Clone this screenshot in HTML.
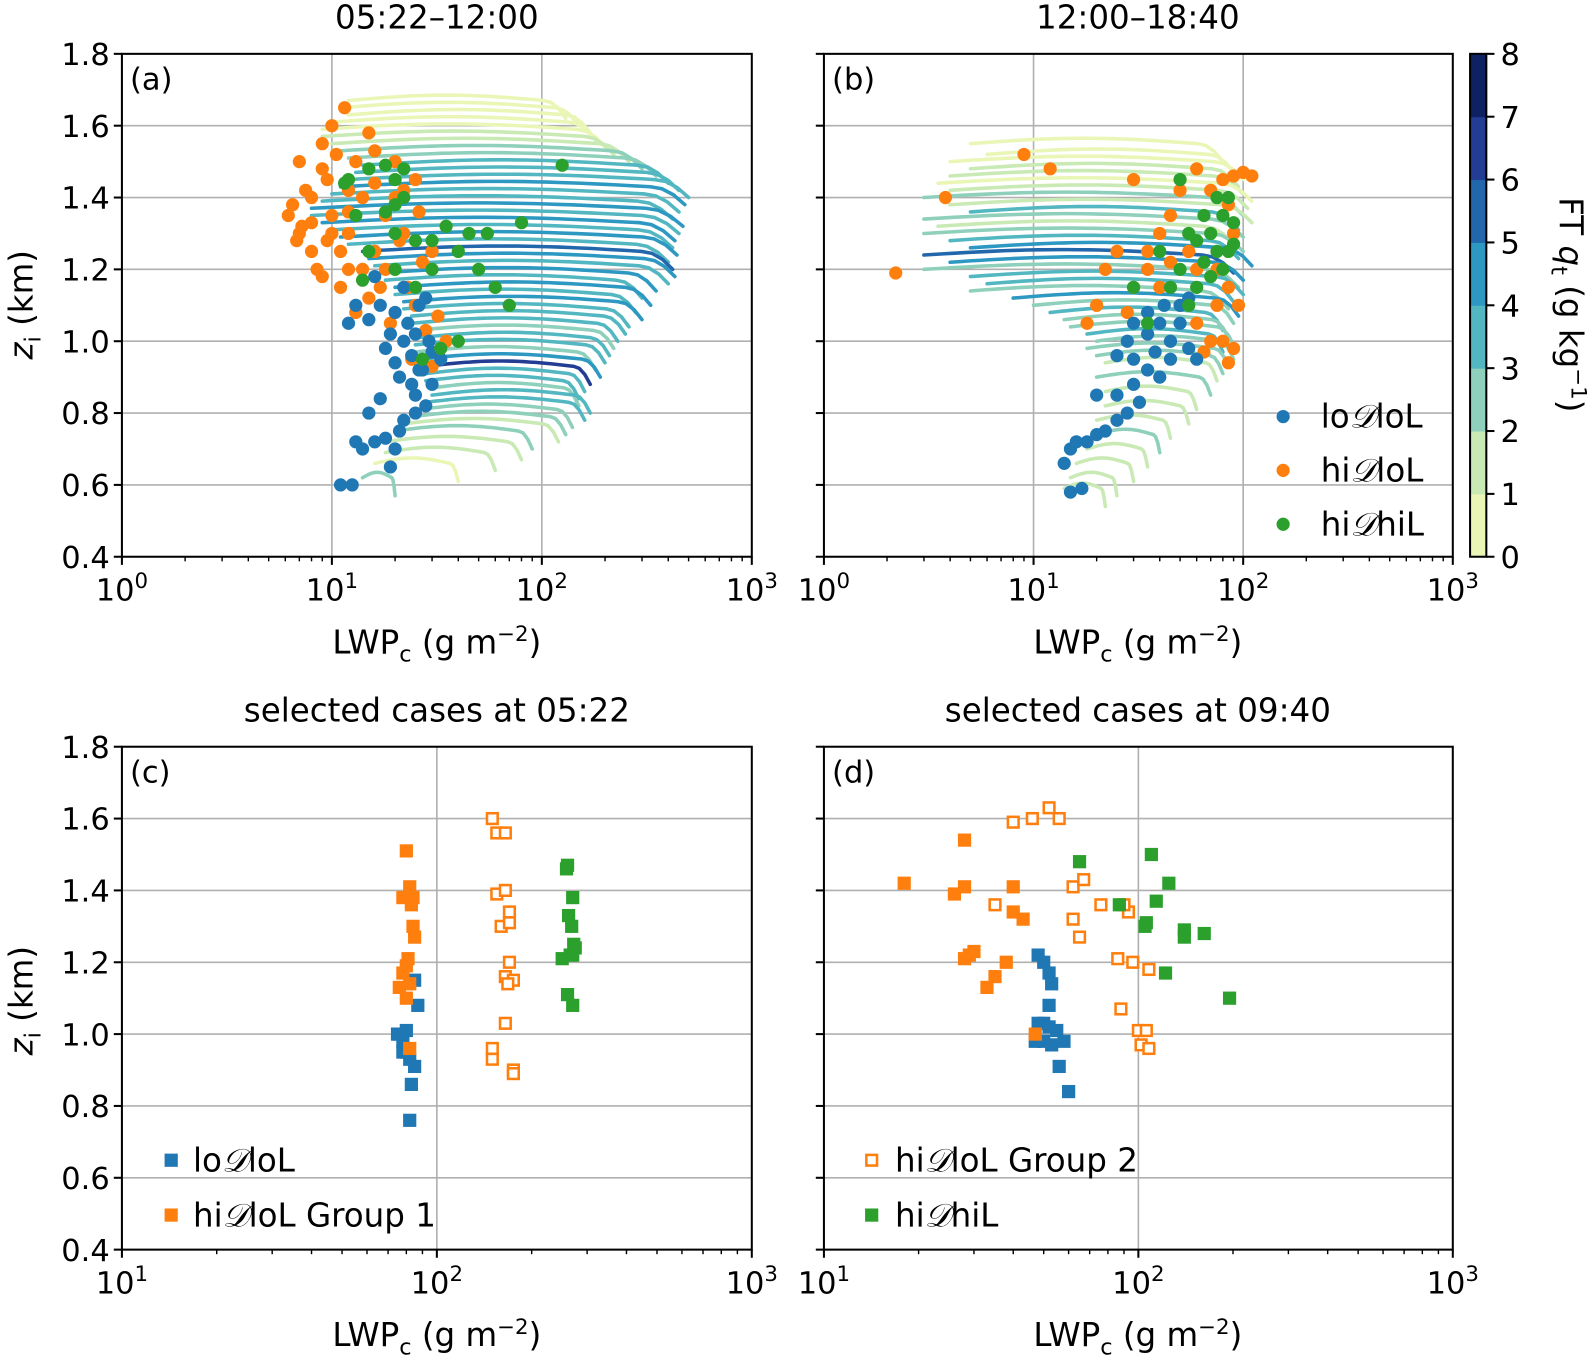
<!DOCTYPE html>
<html><head><meta charset="utf-8">
<style>
html,body{margin:0;padding:0;background:#fff}
svg{display:block;font-family:"DejaVu Sans","Liberation Sans",sans-serif}
</style></head>
<body>
<svg id="fig" width="1593" height="1356" viewBox="0 0 1568 1334.7" preserveAspectRatio="none" xmlns="http://www.w3.org/2000/svg"></svg>
<script>
// ---------- DATA ----------
const qtTicks=[0,1,2,3,4,5,6,7,8];
const qtColors=["#e9f6b6","#c9e9b5","#8ed0bb","#52b7c1","#2d98c1","#2267ac","#233d95","#0d2163"];
const zTicks=[0.4,0.6,0.8,1.0,1.2,1.4,1.6,1.8];
// panel a trajectories
const aTrajZ=[1.67,1.65,1.63,1.61,1.59,1.57,1.55,1.53,1.51,1.49,1.47,1.45,1.43,1.41,1.39,1.37,1.35,1.33,1.31,1.29,1.27,1.25,1.23,1.21,1.19,1.17,1.15,1.13,1.11,1.09,1.07,1.05,1.03,1.01,0.99,0.97,0.95,0.93,0.91,0.89,0.87,0.85,0.83,0.81,0.79,0.77,0.75,0.72,0.69,0.66,0.62];
const aTrajStart=[12,11,12,10,9,9,10,11,12,14,13,12,11,10,9,8,8,9,10,11,12,14,15,16,17,18,20,20,22,22,24,24,25,26,25,25,26,28,28,28,30,30,28,26,24,22,20,18,18,16,14];
const aTrajEnd=[130,150,170,180,200,220,260,300,350,400,450,500,480,450,420,470,450,430,420,440,400,420,430,400,350,300,330,280,300,260,250,230,220,210,200,180,190,170,160,150,150,170,160,140,130,120,90,80,60,40,20];
const aTrajQt=[0.6,0.7,0.8,0.6,0.9,1.2,1.5,2.2,2.8,3.2,3.6,3.4,4.2,3.0,3.8,4.4,3.5,4.8,3.2,4.5,3.9,5.2,4.1,3.6,4.6,3.3,4.0,3.1,4.4,3.5,3.8,3.0,2.6,3.7,3.2,2.8,4.3,6.3,3.4,3.0,2.7,3.9,3.3,2.5,2.2,1.8,2.4,1.6,1.2,0.9,2.5];
// panel b trajectories
const bTrajZ=[1.55,1.52,1.5,1.48,1.46,1.44,1.42,1.4,1.38,1.36,1.34,1.32,1.3,1.28,1.26,1.24,1.22,1.2,1.18,1.16,1.14,1.12,1.1,1.08,1.06,1.04,1.02,1.0,0.98,0.96,0.94,0.9,0.86,0.82,0.78,0.74,0.7,0.66,0.62,0.59];
const bTrajStart=[5,6,4,5,4,3.5,4,3,4,5,3,3.5,3,4,5,3,4,3,5,6,5,8,10,12,14,15,18,20,18,20,22,20,22,22,20,20,18,16,15,14];
const bTrajEnd=[80,90,100,95,100,110,105,100,110,95,100,90,100,95,110,90,100,95,100,90,85,95,90,80,85,90,80,90,85,80,75,70,60,55,45,40,35,30,25,22];
const bTrajQt=[0.6,0.8,0.5,1.0,1.2,0.8,1.5,2.2,1.8,3.5,2.6,1.4,2.2,3.8,4.5,5.5,4.0,2.4,3.0,3.6,2.6,4.2,2.8,3.1,2.4,2.0,3.4,2.6,2.3,2.0,1.8,2.2,1.6,1.9,1.5,2.0,1.4,1.6,1.8,1.2];
// panel a scatter
const aOrange=[[6.5,1.38],[7,1.3],[6.2,1.35],[7.5,1.42],[8,1.25],[8.5,1.2],[7,1.5],[9,1.55],[10,1.6],[11.5,1.65],[9.5,1.45],[12,1.3],[13,1.5],[15,1.58],[14,1.4],[10,1.35],[8,1.33],[6.8,1.28],[9,1.18],[11,1.15],[12,1.2],[16,1.25],[18,1.35],[20,1.4],[22,1.3],[17,1.15],[19,1.05],[25,1.1],[28,1.03],[24,0.95],[30,0.93],[27,1.22],[23,1.15],[15,1.12],[13,1.08],[20,1.5],[25,1.45],[12,1.42],[8,1.4],[7.2,1.32],[9.5,1.28],[11,1.25],[14,1.2],[18,1.2],[22,1.42],[26,1.36],[30,1.25],[35,1.0],[32,1.07],[21,1.28],[16,1.44],[9,1.48],[10.5,1.52],[16,1.53],[10,1.3],[12,1.36]];
const aBlue=[[11,0.6],[12.5,0.6],[13,0.72],[14,0.7],[16,0.72],[18,0.73],[20,0.7],[19,0.65],[15,0.8],[17,0.84],[22,0.78],[25,0.8],[28,0.82],[24,0.88],[30,0.88],[27,0.92],[20,0.94],[18,0.98],[22,1.0],[25,1.02],[23,1.05],[20,1.08],[17,1.1],[15,1.06],[12,1.05],[13,1.1],[26,1.1],[29,1.0],[30,0.97],[21,0.9],[24,0.96],[19,1.02],[28,1.12],[22,1.15],[16,1.18],[25,0.85],[21,0.75],[33,0.95],[26,0.92]];
const aGreen=[[12,1.45],[11.5,1.44],[15,1.48],[18,1.49],[20,1.45],[22,1.48],[13,1.35],[18,1.36],[20,1.3],[25,1.28],[30,1.2],[35,1.32],[40,1.25],[45,1.3],[50,1.2],[60,1.15],[70,1.1],[80,1.33],[125,1.49],[15,1.25],[14,1.17],[20,1.2],[25,1.15],[40,1.0],[33,0.98],[27,0.95],[22,1.4],[30,1.28],[55,1.3],[20,1.38]];
// panel b scatter
const bOrange=[[2.2,1.19],[3.8,1.4],[9,1.52],[12,1.48],[30,1.45],[50,1.42],[60,1.48],[90,1.46],[110,1.46],[100,1.47],[80,1.45],[70,1.42],[85,1.38],[45,1.35],[40,1.3],[35,1.25],[25,1.25],[22,1.2],[20,1.1],[30,1.15],[40,1.15],[50,1.1],[60,1.05],[70,1.0],[80,1.0],[90,0.98],[65,0.97],[85,0.94],[75,1.2],[90,1.3],[55,1.25],[45,1.22],[35,1.2],[28,1.08],[18,1.05],[60,1.2],[75,1.1],[85,1.15],[95,1.1]];
const bBlue=[[15,0.58],[17,0.59],[14,0.66],[15,0.7],[18,0.72],[20,0.74],[16,0.72],[22,0.75],[25,0.78],[28,0.8],[32,0.83],[30,0.88],[25,0.85],[40,0.9],[35,0.92],[30,0.95],[28,1.0],[35,1.02],[40,1.05],[45,1.0],[50,1.05],[55,0.98],[60,0.95],[45,0.95],[38,0.97],[50,1.1],[55,1.12],[42,1.1],[35,1.08],[30,1.05],[25,0.96],[20,0.85]];
const bGreen=[[40,1.25],[50,1.2],[60,1.28],[70,1.3],[80,1.35],[90,1.33],[75,1.4],[85,1.4],[50,1.45],[65,1.22],[70,1.18],[80,1.2],[60,1.15],[55,1.1],[45,1.15],[85,1.25],[90,1.27],[75,1.25],[65,1.35],[55,1.3],[35,1.05],[30,1.15]];
// panel c
const cBlue=[[75,1.0],[78,0.98],[80,0.95],[82,0.93],[78,0.95],[85,0.91],[80,1.01],[83,0.86],[82,0.76],[85,1.15],[87,1.08],[76,1.0]];
const cOrange=[[80,1.51],[78,1.38],[82,1.41],[84,1.38],[83,1.36],[84,1.3],[85,1.27],[81,1.21],[80,1.19],[78,1.17],[76,1.13],[82,1.14],[80,1.1],[82,0.96]];
const cOpen=[[150,1.6],[155,1.56],[165,1.56],[155,1.39],[165,1.4],[170,1.34],[160,1.3],[170,1.31],[170,1.2],[165,1.16],[175,1.15],[168,1.14],[165,1.03],[150,0.96],[150,0.93],[175,0.9],[175,0.89]];
const cGreen=[[260,1.47],[258,1.46],[270,1.38],[262,1.33],[268,1.3],[272,1.25],[265,1.22],[250,1.21],[275,1.24],[270,1.22],[260,1.11],[270,1.08]];
// panel d
const dBlue=[[48,1.22],[50,1.2],[52,1.17],[53,1.14],[52,1.08],[48,1.03],[50,1.03],[52,1.02],[55,1.01],[50,0.98],[53,0.97],[58,0.98],[56,0.91],[60,0.84],[47,0.98]];
const dOrange=[[18,1.42],[28,1.54],[26,1.39],[28,1.41],[40,1.41],[40,1.34],[43,1.32],[29,1.22],[30,1.23],[28,1.21],[38,1.2],[35,1.16],[33,1.13],[47,1.0]];
const dOpen=[[52,1.63],[40,1.59],[46,1.6],[56,1.6],[35,1.36],[62,1.32],[62,1.41],[67,1.43],[76,1.36],[93,1.34],[90,1.36],[65,1.27],[86,1.21],[96,1.2],[108,1.18],[88,1.07],[100,1.01],[106,1.01],[102,0.97],[108,0.96]];
const dGreen=[[65,1.48],[87,1.36],[110,1.5],[114,1.37],[125,1.42],[105,1.3],[106,1.31],[140,1.29],[140,1.27],[162,1.28],[122,1.17],[195,1.1]];

// ---------- DRAWING ----------
const NS="http://www.w3.org/2000/svg";
const svg=document.getElementById('fig');
function mk(tag,attrs,parent){const e=document.createElementNS(NS,tag);for(const k in attrs)e.setAttribute(k,attrs[k]);(parent||svg).appendChild(e);return e;}
const BLUE="#1f77b4",ORANGE="#ff7f0e",GREEN="#2ca02c";
function qtColor(v){return qtColors[Math.max(0,Math.min(7,Math.floor(v)))];}

function makePanel(name,x0,x1,y0,y1,lmin,lmax,yLabels){
  const P={x0,x1,y0,y1,lmin,lmax};
  P.sx=v=>x0+(Math.log10(v)-lmin)/(lmax-lmin)*(x1-x0);
  P.sy=z=>y1-(z-0.4)/1.4*(y1-y0);
  const g=mk('g',{});
  
  
  P.g=g;
  const grid=mk('g',{},g);
  
  
  for(let d=lmin+1;d<lmax;d++){mk('line',{x1:P.sx(10**d),x2:P.sx(10**d),y1:y0,y2:y1,stroke:'#b0b0b0','stroke-width':1.6},grid);}
  zTicks.forEach(z=>{if(z>0.41&&z<1.79)mk('line',{x1:x0,x2:x1,y1:P.sy(z),y2:P.sy(z),stroke:'#b0b0b0','stroke-width':1.6},grid);});
  P.plot=mk('g',{},g);
  
  
  P.fin=()=>{
    mk('rect',{x:x0,y:y0,width:x1-x0,height:y1-y0,fill:'none',stroke:'#000','stroke-width':2},g);
    const ax=mk('g',{},g);
    
    
    for(let d=lmin;d<=lmax;d++){
      const x=P.sx(10**d);
      mk('line',{x1:x,x2:x,y1:y1,y2:y1+8,stroke:'#000','stroke-width':2},ax);
      const t=mk('text',{x:x,y:y1+43,'font-size':30,'text-anchor':'middle'},ax);
      t.textContent='10';
      const s=mk('tspan',{dy:-12,'font-size':21},t);s.textContent=String(d);
      if(d<lmax)for(let m=2;m<10;m++){const xm=P.sx(m*10**d);mk('line',{x1:xm,x2:xm,y1:y1,y2:y1+4.5,stroke:'#000','stroke-width':1.4},ax);}
    }
    const ay=mk('g',{},g);
    
    
    zTicks.forEach(z=>{
      const y=P.sy(z);
      mk('line',{x1:x0-8,x2:x0,y1:y,y2:y,stroke:'#000','stroke-width':2},ay);
      if(yLabels){const t=mk('text',{x:x0-12,y:y+11,'font-size':30,'text-anchor':'end'},ay);t.textContent=z.toFixed(1);}
    });
  };
  return P;
}
function traj(P,zs,st,en,qt,name){
  const g=mk('g',{},P.plot);
  
  
  for(let i=0;i<zs.length;i++){
    const a=Math.log10(st[i]),b=Math.log10(en[i]);const pts=[];
    const n=30;
    for(let k=0;k<=n;k++){
      const f=k/n;const l=a+(b-a)*f;
      let z=zs[i]+0.015*Math.sin(Math.PI*Math.min(f/0.9,1));
      if(f>0.9){z-=0.05*((f-0.9)/0.1)**2;}
      pts.push(P.sx(10**l).toFixed(1)+','+P.sy(z).toFixed(1));
    }
    const p=mk('polyline',{points:pts.join(' '),fill:'none',stroke:qtColor(qt[i]),'stroke-width':3.5,'stroke-linecap':'round'},g);
    
    
  }
}
function dots(P,arr,color,name){
  const g=mk('g',{},P.plot);
  
  
  arr.forEach(d=>{
    const c=mk('circle',{cx:P.sx(d[0]),cy:P.sy(d[1]),r:6.5,fill:color},g);
    
    
  });
}
function squares(P,arr,color,open,name){
  const g=mk('g',{},P.plot);
  
  
  arr.forEach(d=>{
    const s=open?10.5:13;
    const r=mk('rect',{x:P.sx(d[0])-s/2,y:P.sy(d[1])-s/2,width:s,height:s,fill:open?'#fff':color,stroke:color,'stroke-width':open?2.5:0},g);
    
    
  });
}
function txt(s,x,y,size,anchor,name,rot){
  const t=mk('text',{x:x,y:y,'font-size':size,'text-anchor':anchor||'start'});
  if(rot)t.setAttribute('transform',`rotate(${rot} ${x} ${y})`);
  t.innerHTML=s;
  
  
  return t;
}
const D='<tspan font-family="DejaVu Serif, serif" font-style="italic">𝒟</tspan>';

// panel a
const A=makePanel('panel-a',120,740,53,548,0,3,true);
traj(A,aTrajZ,aTrajStart,aTrajEnd,aTrajQt,'trajectories-a');
dots(A,aOrange,ORANGE,'series-hiDloL-a');
dots(A,aBlue,BLUE,'series-loDloL-a');
dots(A,aGreen,GREEN,'series-hiDhiL-a');
A.fin();
// panel b
const B=makePanel('panel-b',811,1430,53,548,0,3,false);
traj(B,bTrajZ,bTrajStart,bTrajEnd,bTrajQt,'trajectories-b');
dots(B,bOrange,ORANGE,'series-hiDloL-b');
dots(B,bBlue,BLUE,'series-loDloL-b');
dots(B,bGreen,GREEN,'series-hiDhiL-b');
B.fin();
// panel c
const C=makePanel('panel-c',120,740,735,1230,1,3,true);
squares(C,cBlue,BLUE,false,'series-loDloL-c');
squares(C,cOrange,ORANGE,false,'series-hiDloL-group1-c');
squares(C,cOpen,ORANGE,true,'series-hiDloL-group2-c');
squares(C,cGreen,GREEN,false,'series-hiDhiL-c');
C.fin();
// panel d
const Dp=makePanel('panel-d',811,1430,735,1230,1,3,false);
squares(Dp,dBlue,BLUE,false,'series-loDloL-d');
squares(Dp,dOrange,ORANGE,false,'series-hiDloL-group1-d');
squares(Dp,dOpen,ORANGE,true,'series-hiDloL-group2-d');
squares(Dp,dGreen,GREEN,false,'series-hiDhiL-d');
Dp.fin();

// titles & labels
txt('05:22–12:00',430,28,32,'middle','title-a');
txt('12:00–18:40',1120,28,32,'middle','title-b');
txt('selected cases at 05:22',430,710,32,'middle','title-c');
txt('selected cases at 09:40',1120,710,32,'middle','title-d');
txt('(a)',128,88,30,'start','panel-label-a');
txt('(b)',819,88,30,'start','panel-label-b');
txt('(c)',128,770,30,'start','panel-label-c');
txt('(d)',819,770,30,'start','panel-label-d');
['a','b','c','d'].forEach((p,i)=>{
  const x=(i%2==0)?430:1120, y=(i<2)?643:1325;
  txt('LWP<tspan font-size="22" dy="8">c</tspan><tspan dy="-8"> (g m</tspan><tspan font-size="21" dy="-12">−2</tspan><tspan dy="12">)</tspan>',x,y,32,'middle','x-axis-title-'+p);
});
txt('<tspan font-style="italic">z</tspan><tspan font-size="22" dy="8">i</tspan><tspan dy="-8"> (km)</tspan>',32,300,32,'middle','y-axis-title-a',-90);
txt('<tspan font-style="italic">z</tspan><tspan font-size="22" dy="8">i</tspan><tspan dy="-8"> (km)</tspan>',32,985,32,'middle','y-axis-title-c',-90);

// legend b
const legB=[[BLUE,'lo'+D+'loL',410],[ORANGE,'hi'+D+'loL',463],[GREEN,'hi'+D+'hiL',516]];
legB.forEach(l=>{
  const c=mk('circle',{cx:1263,cy:l[2],r:6.5,fill:l[0]});
  
  
  txt(l[1],1300,l[2]+11,32,'start','legend-entry');
});
// legend c
[[BLUE,'lo'+D+'loL',1142],[ORANGE,'hi'+D+'loL Group 1',1196]].forEach(l=>{
  const r=mk('rect',{x:162,y:l[2]-6.5,width:13,height:13,fill:l[0]});
  
  
  txt(l[1],190,l[2]+11,32,'start','legend-entry');
});
// legend d
[[ORANGE,'hi'+D+'loL Group 2',1142,true],[GREEN,'hi'+D+'hiL',1196,false]].forEach(l=>{
  const s=l[3]?10.5:13;
  const r=mk('rect',{x:858-s/2,y:l[2]-s/2,width:s,height:s,fill:l[3]?'#fff':l[0],stroke:l[0],'stroke-width':l[3]?2.5:0});
  
  
  txt(l[1],881,l[2]+11,32,'start','legend-entry');
});

// colorbar
const cb=mk('g',{});


const cbX=1447,cbW=16,cbT=53,cbB=548;
const cy=v=>cbB-(v-qtTicks[0])/(qtTicks[qtTicks.length-1]-qtTicks[0])*(cbB-cbT);
qtColors.forEach((c,i)=>{
  const r=mk('rect',{x:cbX,y:cy(qtTicks[i+1]),width:cbW,height:cy(qtTicks[i])-cy(qtTicks[i+1])+0.5,fill:c},cb);
  
  
});
mk('rect',{x:cbX,y:cbT,width:cbW,height:cbB-cbT,fill:'none',stroke:'#000','stroke-width':2},cb);
qtTicks.forEach(v=>{
  mk('line',{x1:cbX+cbW,x2:cbX+cbW+8,y1:cy(v),y2:cy(v),stroke:'#000','stroke-width':2},cb);
  const t=mk('text',{x:cbX+cbW+14,y:cy(v)+11,'font-size':30},cb);t.textContent=v;
});
txt('FT <tspan font-style="italic">q</tspan><tspan font-size="22" dy="8">t</tspan><tspan dy="-8"> (g kg</tspan><tspan font-size="21" dy="-12">−1</tspan><tspan dy="12">)</tspan>',1535,300,32,'middle','colorbar-title',90);
</script>
</body></html>
